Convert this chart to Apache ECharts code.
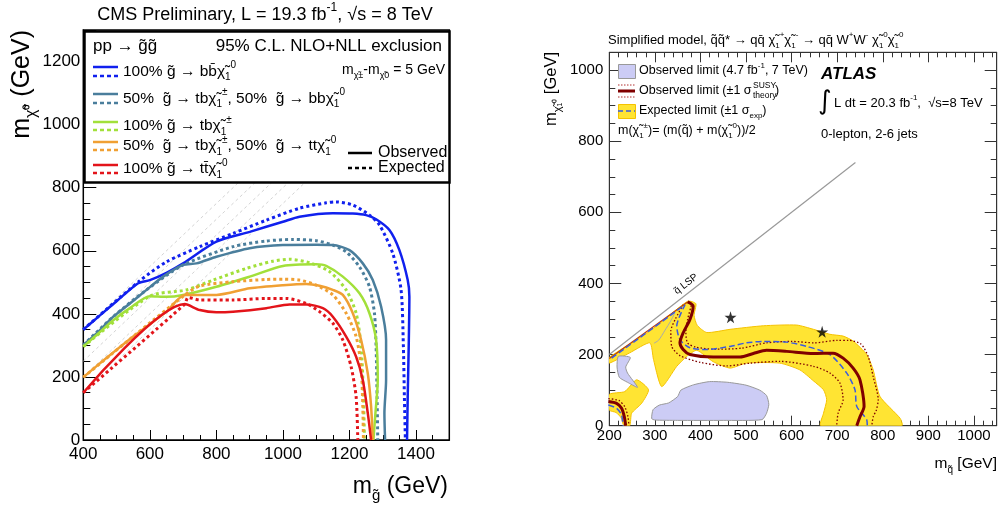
<!DOCTYPE html>
<html>
<head>
<meta charset="utf-8">
<script src="https://cdn.jsdelivr.net/npm/echarts@6/dist/echarts.min.js"></script>
<style>
  html, body { margin: 0; padding: 0; background: #fff; }
  #main { width: 1000px; height: 511px; }
</style>
</head>
<body>
<div id="main"></div>
<script>
// ---- left plot (CMS), [m_gluino, m_LSP] in GeV ----
var bbObs = [[400,350],[450,395],[500,440],[565,497],[600,507],[650,530],[700,560],[800,629],[900,660],[1000,692],[1050,708],[1150,719],[1210,718],[1250,713],[1280,700],[1320,666],[1350,602],[1375,507],[1380,454],[1378,296],[1375,137],[1373,0]];
var bbExp = [[400,350],[570,505],[650,565],[750,613],[850,655],[950,697],[1050,735],[1130,752],[1160,755],[1210,745],[1260,713],[1290,682],[1330,592],[1355,476],[1362,296],[1365,137],[1368,0]];
var tbbbObs = [[400,301],[440,338],[490,391],[540,433],[590,476],[640,518],[700,555],[740,560],[800,581],[900,608],[1000,618],[1100,619],[1150,618],[1200,602],[1240,560],[1270,507],[1295,423],[1310,317],[1310,190],[1305,85],[1307,0]];
var tbbbExp = [[400,301],[490,391],[590,476],[700,555],[850,613],[950,631],[1030,636],[1100,632],[1150,618],[1190,597],[1230,549],[1260,486],[1275,402],[1280,296],[1283,137],[1285,0]];
var tbObs = [[400,296],[440,333],[490,380],[540,418],[600,456],[650,454],[700,460],[800,486],[900,518],[1000,552],[1100,557],[1130,552],[1180,518],[1230,465],[1260,402],[1280,317],[1285,190],[1278,85],[1272,0]];
var tbExp = [[400,296],[600,456],[710,476],[790,507],[890,544],[970,567],[1020,573],[1080,562],[1140,534],[1190,476],[1220,402],[1235,296],[1242,137],[1245,0]];
var tbttObs = [[400,199],[450,243],[550,328],[650,407],[705,460],[800,460],[900,481],[1000,491],[1070,495],[1110,489],[1150,476],[1180,460],[1210,402],[1235,317],[1255,211],[1265,106],[1270,0]];
var tbttExp = [[400,199],[705,460],[750,488],[850,502],[950,509],[1000,510],[1050,507],[1100,491],[1150,460],[1190,402],[1220,328],[1235,232],[1240,106],[1242,0]];
var ttObs = [[400,150],[705,431],[750,412],[800,405],[850,407],[950,418],[1020,430],[1070,430],[1120,418],[1150,391],[1190,328],[1220,264],[1240,190],[1255,85],[1265,0]];
var ttExp = [[400,150],[705,431],[715,452],[750,444],[850,444],[950,449],[1010,449],[1070,433],[1110,407],[1150,370],[1180,317],[1205,232],[1220,137],[1225,0]];
var guideOffsets = [50, 100, 150, 200, 250];   // m_gluino - m_LSP lines

// ---- right plot (ATLAS), [m_squark, m_LSP] in GeV ----
var lspLine = [[200,200],[740,740]];
var expBand = [[200,192],[289,266],[372,350],[390,343],[386,310],[393,282],[414,262],[465,271],[538,281],[611,283],[648,271],[684,257],[713,252],[735,238],[765,200],[779,157],[794,82],[838,21],[842,0],[664,0],[670,35],[677,73],[670,101],[648,126],[618,157],[574,176],[501,176],[465,162],[428,180],[392,212],[370,195],[348,167],[315,110],[297,186],[289,233],[245,205],[200,176]];
var expBandLow = [[200,88],[234,96],[260,129],[286,101],[271,63],[249,35],[245,0],[232,0],[226,22],[215,37],[200,44]];
var obs7Big = [[293,20],[296,45],[310,58],[330,64],[350,82],[357,100],[385,115],[420,124],[460,122],[500,114],[530,100],[545,85],[550,60],[545,35],[535,17],[450,15],[350,15],[300,16]];
var obs7Small = [[220,195],[246,192],[236,165],[240,148],[262,108],[240,122],[222,136],[217,165]];
var obs7Edge = [[344,318],[335,295],[322,268],[308,240],[298,232]];
var obsLine = [[372,348],[384,336],[377,299],[362,261],[355,233],[362,214],[377,200],[428,193],[487,193],[516,203],[545,212],[589,209],[648,203],[691,204],[713,190],[735,162],[750,129],[759,54],[750,25],[743,0]];
var obsDiag = [[200,189],[372,348]];
var obsArc = [[198,68],[216,63],[227,49],[233,25],[236,0]];
var obsUp = [[380,338],[372,300],[368,262],[372,232],[390,221],[430,215],[490,218],[545,233],[600,237],[650,233],[700,240],[725,240],[752,230],[768,195],[779,138],[790,73],[786,44],[779,25],[776,0]];
var obsDown = [[362,340],[345,300],[335,266],[337,223],[355,197],[400,178],[458,168],[510,176],[574,181],[648,167],[684,148],[706,120],[713,73],[702,35],[699,0]];
var obsArcUp = [[198,76],[221,71],[234,53],[241,25],[243,0]];
var expLine = [[205,190],[366,340],[348,280],[355,242],[377,219],[414,214],[465,223],[501,233],[538,237],[589,235],[633,223],[684,200],[721,148],[739,101],[743,54],[765,16],[766,0]];
var expArc = [[198,58],[216,49],[227,30],[230,0]];
var stars = [[466,305],[667,264]];

var FONT = '"Liberation Sans", Arial, sans-serif';
var T = '\u0303';   // combining tilde

function richFor(size) {
    var s = Math.round(size * 0.65);
    return {
        u: { fontSize: s, fontFamily: FONT, fill: '#000', verticalAlign: 'top', lineHeight: s + 1 },
        d: { fontSize: s, fontFamily: FONT, fill: '#000', verticalAlign: 'bottom', lineHeight: s + 1 }
    };
}
function txt(x, y, s, size, extra) {
    var el = {
        type: 'text', x: x, y: y, z: 110,
        style: {
            text: s, fontSize: size, fontFamily: FONT, fill: '#000',
            align: 'left', verticalAlign: 'middle', lineHeight: Math.round(size * 1.45),
            rich: richFor(size)
        }
    };
    if (extra) {
        for (var k in extra) {
            if (k === 'style') { for (var j in extra.style) el.style[j] = extra.style[j]; }
            else el[k] = extra[k];
        }
    }
    return el;
}
function seg(x1, y1, x2, y2, color, w, dash) {
    return { type: 'line', z: 110, shape: { x1: x1, y1: y1, x2: x2, y2: y2 },
             style: { stroke: color, lineWidth: w, lineDash: dash || null } };
}

function line(data, color, width, dash, xi, yi, smooth) {
    return {
        type: 'line', data: data, xAxisIndex: xi, yAxisIndex: yi,
        symbol: 'none', smooth: smooth === undefined ? 0.25 : smooth, silent: true,
        clip: true, animation: false,
        lineStyle: { color: color, width: width, type: dash || 'solid' }
    };
}
function poly(pts, fill, stroke) {
    return {
        type: 'custom', data: pts, xAxisIndex: 1, yAxisIndex: 1, clip: true, silent: true,
        animation: false,
        renderItem: function (params, api) {
            if (params.dataIndex !== 0) return null;
            var p = pts.map(function (d) { return api.coord(d); });
            return { type: 'polygon', shape: { points: p, smooth: 0.2 },
                     style: { fill: fill, stroke: stroke, lineWidth: 1 } };
        }
    };
}

var C_BB = '#1020ee', C_TBBB = '#4a7e9c', C_TB = '#a2e03a', C_TBTT = '#f0a033', C_TT = '#e3141a';
var DASH = [3, 3];

var series = [];
guideOffsets.forEach(function (c) {
    series.push(line([[400, 400 - c], [830 + c, 830]], '#c8c8c8', 0.8, [3, 3], 0, 0, false));
});
series.push(
    line(bbExp, C_BB, 3, DASH, 0, 0), line(bbObs, C_BB, 2.5, null, 0, 0),
    line(tbbbExp, C_TBBB, 3, DASH, 0, 0), line(tbbbObs, C_TBBB, 2.5, null, 0, 0),
    line(tbExp, C_TB, 3, DASH, 0, 0), line(tbObs, C_TB, 2.5, null, 0, 0),
    line(tbttExp, C_TBTT, 3, DASH, 0, 0), line(tbttObs, C_TBTT, 2.5, null, 0, 0),
    line(ttExp, C_TT, 3, DASH, 0, 0), line(ttObs, C_TT, 2.5, null, 0, 0)
);

// right plot
var YEL = '#ffe433', YEL_EDGE = '#f5c200', LAV = '#ccccf5', DRED = '#7f0000', EBLUE = '#3a5be0';
series.push(
    line(lspLine, '#999', 1.2, null, 1, 1, false),
    poly(expBand, YEL, YEL_EDGE),
    poly(expBandLow, YEL, YEL_EDGE),
    poly(obs7Big, LAV, '#999'),
    poly(obs7Small, LAV, '#999'),
    line(obs7Edge, '#aaa', 1, null, 1, 1),
    line(obsUp, DRED, 1.3, [1.5, 2], 1, 1),
    line(obsDown, DRED, 1.3, [1.5, 2], 1, 1),
    line(obsArcUp, DRED, 1.3, [1.5, 2], 1, 1),
    line(obsDiag, '#c04000', 1.2, null, 1, 1, false),
    line(expLine, EBLUE, 1.5, [6, 3], 1, 1),
    line(expArc, EBLUE, 1.5, [6, 3], 1, 1),
    line(obsLine, DRED, 3, null, 1, 1),
    line(obsArc, DRED, 3, null, 1, 1),
    {
        type: 'scatter', data: stars, xAxisIndex: 1, yAxisIndex: 1, silent: true,
        symbol: 'path://M50,0 L61,35 L98,35 L68,57 L79,91 L50,70 L21,91 L32,57 L2,35 L39,35 Z',
        symbolSize: 12, itemStyle: { color: '#000' }
    }
);

function plain(v) { return String(v); }

function valAxis(o) {
    var base = {
        type: 'value', splitLine: { show: false },
        axisLine: { show: true, onZero: false, lineStyle: { color: '#000', width: 1 } },
        axisTick: { show: true, inside: true, length: 10, lineStyle: { color: '#000' } },
        minorTick: { show: true, length: 5, lineStyle: { color: '#000' } },
        axisLabel: { showMaxLabel: false, color: '#000', fontFamily: FONT, formatter: plain }
    };
    for (var k in o) base[k] = o[k];
    return base;
}

var option = {
    animation: false,
    backgroundColor: '#fff',
    grid: [
        { left: 83.3, top: 30, width: 366, height: 410, show: true, borderColor: '#000', borderWidth: 1.5, backgroundColor: 'transparent' },
        { left: 609.3, top: 52.3, width: 387.4, height: 373.4, show: true, borderColor: '#333', borderWidth: 1, backgroundColor: 'transparent' }
    ],
    xAxis: [
        valAxis({ gridIndex: 0, min: 400, max: 1500, interval: 200,
            axisTick: { show: true, inside: true, length: 10, lineStyle: { color: '#000' } },
            minorTick: { show: true, splitNumber: 4, length: 5, lineStyle: { color: '#000' } },
            axisLabel: { showMaxLabel: false, color: '#000', fontFamily: FONT, fontSize: 17, margin: 6, formatter: plain } }),
        valAxis({ gridIndex: 1, min: 200, max: 1050, interval: 100,
            axisLine: { show: true, onZero: false, lineStyle: { color: '#333' } },
            minorTick: { show: true, splitNumber: 5, length: 5, lineStyle: { color: '#333' } },
            axisTick: { show: true, inside: true, length: 10, lineStyle: { color: '#333' } },
            axisLabel: { showMaxLabel: false, color: '#000', fontFamily: FONT, fontSize: 15, margin: 3, formatter: plain } }),
        valAxis({ gridIndex: 1, min: 200, max: 1050, interval: 100, position: 'top',
            axisLine: { show: true, onZero: false, lineStyle: { color: '#333' } },
            minorTick: { show: true, splitNumber: 5, length: 5, lineStyle: { color: '#333' } },
            axisTick: { show: true, inside: true, length: 10, lineStyle: { color: '#333' } },
            axisLabel: { show: false } })
    ],
    yAxis: [
        valAxis({ gridIndex: 0, min: 0, max: 1300, interval: 200,
            axisTick: { show: true, inside: true, length: 13, lineStyle: { color: '#000' } },
            minorTick: { show: true, splitNumber: 4, length: 7, lineStyle: { color: '#000' } },
            axisLabel: { showMaxLabel: false, color: '#000', fontFamily: FONT, fontSize: 17, margin: 3, formatter: plain } }),
        valAxis({ gridIndex: 1, min: 0, max: 1050, interval: 200,
            axisLine: { show: true, onZero: false, lineStyle: { color: '#333' } },
            minorTick: { show: true, splitNumber: 4, length: 6, lineStyle: { color: '#333' } },
            axisTick: { show: true, inside: true, length: 12, lineStyle: { color: '#333' } },
            axisLabel: { showMaxLabel: false, color: '#000', fontFamily: FONT, fontSize: 15, margin: 6, formatter: plain } }),
        valAxis({ gridIndex: 1, min: 0, max: 1050, interval: 200, position: 'right',
            axisLine: { show: true, onZero: false, lineStyle: { color: '#333' } },
            minorTick: { show: true, splitNumber: 4, length: 6, lineStyle: { color: '#333' } },
            axisTick: { show: true, inside: true, length: 12, lineStyle: { color: '#333' } },
            axisLabel: { show: false } })
    ],
    series: series,
    graphic: []
};

var g = option.graphic;
// ---- left texts ----
g.push(txt(265, 15, 'CMS Preliminary, L = 19.3 fb{u|-1}, \u221As = 8 TeV', 18, { style: { align: 'center' } }));
g.push(txt(22, 30, 'm{d|\u03C7' + T + '\u2070} (GeV)', 25, { rotation: Math.PI / 2, style: { align: 'right' } }));
g.push(txt(448, 487, 'm{d|g' + T + '} (GeV)', 23, { style: { align: 'right' } }));
// legend box
g.push({ type: 'rect', z: 105, shape: { x: 84.5, y: 31.5, width: 365, height: 151 },
         style: { fill: '#fff', stroke: '#000', lineWidth: 2.5 } });
g.push(txt(93, 46, 'pp \u2192 g' + T + 'g' + T, 17));
g.push(txt(442, 46, '95% C.L. NLO+NLL exclusion', 17, { style: { align: 'right' } }));
g.push(txt(445, 70, 'm{d|\u03C7' + T + '\u00B1}-m{d|\u03C7' + T + '0} = 5 GeV', 14, { style: { align: 'right' } }));
var legRows = [
    [67, 76, C_BB, '100% g' + T + ' \u2192 bb\u0304\u03C7' + T + '{d|1}{u|0}'],
    [94, 103, C_TBBB, '50%  g' + T + ' \u2192 tb\u03C7' + T + '{d|1}{u|\u00B1}, 50%  g' + T + ' \u2192 bb\u03C7' + T + '{d|1}{u|0}'],
    [122, 130, C_TB, '100% g' + T + ' \u2192 tb\u03C7' + T + '{d|1}{u|\u00B1}'],
    [142, 150, C_TBTT, '50%  g' + T + ' \u2192 tb\u03C7' + T + '{d|1}{u|\u00B1}, 50%  g' + T + ' \u2192 tt\u03C7' + T + '{d|1}{u|0}'],
    [165, 173, C_TT, '100% g' + T + ' \u2192 tt\u0304\u03C7' + T + '{d|1}{u|0}']
];
legRows.forEach(function (r) {
    g.push(seg(93, r[0], 118, r[0], r[2], 2.5));
    g.push(seg(93, r[1], 118, r[1], r[2], 2.5, [4, 3]));
    g.push(txt(123, (r[0] + r[1]) / 2, r[3], 15.5));
});
g.push(seg(348, 153, 372, 153, '#000', 2.5));
g.push(txt(378, 153, 'Observed', 16));
g.push(seg(348, 168, 372, 168, '#000', 2.5, [4, 3]));
g.push(txt(378, 168, 'Expected', 16));

// ---- right texts ----
g.push(txt(608, 40, 'Simplified model, q' + T + 'q' + T + '* \u2192 qq\u0304 \u03C7' + T + '{d|1}{u|+}\u03C7' + T + '{d|1}{u|-} \u2192 qq\u0304 W{u|+}W{u|-} \u03C7' + T + '{d|1}{u|0}\u03C7' + T + '{d|1}{u|0}', 13));
g.push(txt(551, 52, 'm{d|\u03C7' + T + '\u2081\u2070} [GeV]', 16.5, { rotation: Math.PI / 2, style: { align: 'right' } }));
g.push(txt(997, 464, 'm{d|q' + T + '} [GeV]', 15.5, { style: { align: 'right' } }));
g.push({ type: 'rect', z: 110, shape: { x: 618.5, y: 64.5, width: 17, height: 14 }, style: { fill: LAV, stroke: '#999', lineWidth: 1 } });
g.push(txt(639, 71, 'Observed limit (4.7 fb{u|-1}, 7 TeV)', 12.5));
g.push(seg(618, 85, 635, 85, '#b03030', 1, [1.5, 1.5]));
g.push(seg(618, 91, 635, 91, DRED, 3));
g.push(seg(618, 97, 635, 97, '#b03030', 1, [1.5, 1.5]));
g.push(txt(639, 91, 'Observed limit (\u00B11 \u03C3', 12.5));
g.push(txt(753, 86, 'SUSY', 8.5));
g.push(txt(753, 96, 'theory', 8.5));
g.push(txt(775, 91, ')', 12.5));
g.push({ type: 'rect', z: 110, shape: { x: 618.5, y: 104.5, width: 17, height: 14 }, style: { fill: YEL, stroke: YEL_EDGE, lineWidth: 1 } });
g.push(seg(618, 111, 635, 111, EBLUE, 1.5, [5, 3]));
g.push(txt(639, 111, 'Expected limit (\u00B11 \u03C3{d|exp})', 12.5));
g.push(txt(618, 131, 'm(\u03C7' + T + '{d|1}{u|\u00B1})= (m(q' + T + ') + m(\u03C7' + T + '{d|1}{u|0}))/2', 12.5));
g.push(txt(821, 74, 'ATLAS', 17, { style: { fontWeight: 'bold', fontStyle: 'italic' } }));
g.push(txt(818, 102, '\u222B', 26, { style: { fontFamily: '"DejaVu Sans", sans-serif' } }));
g.push(txt(834, 103, 'L dt = 20.3 fb{u|-1},  \u221As=8 TeV', 13));
g.push(txt(821, 134, '0-lepton, 2-6 jets', 13));
g.push(txt(686, 284, 'q' + T + ' LSP', 10, { rotation: 38 * Math.PI / 180, style: { align: 'center' } }));

var myChart = echarts.init(document.getElementById('main'));
myChart.setOption(option);
</script>
</body>
</html>
